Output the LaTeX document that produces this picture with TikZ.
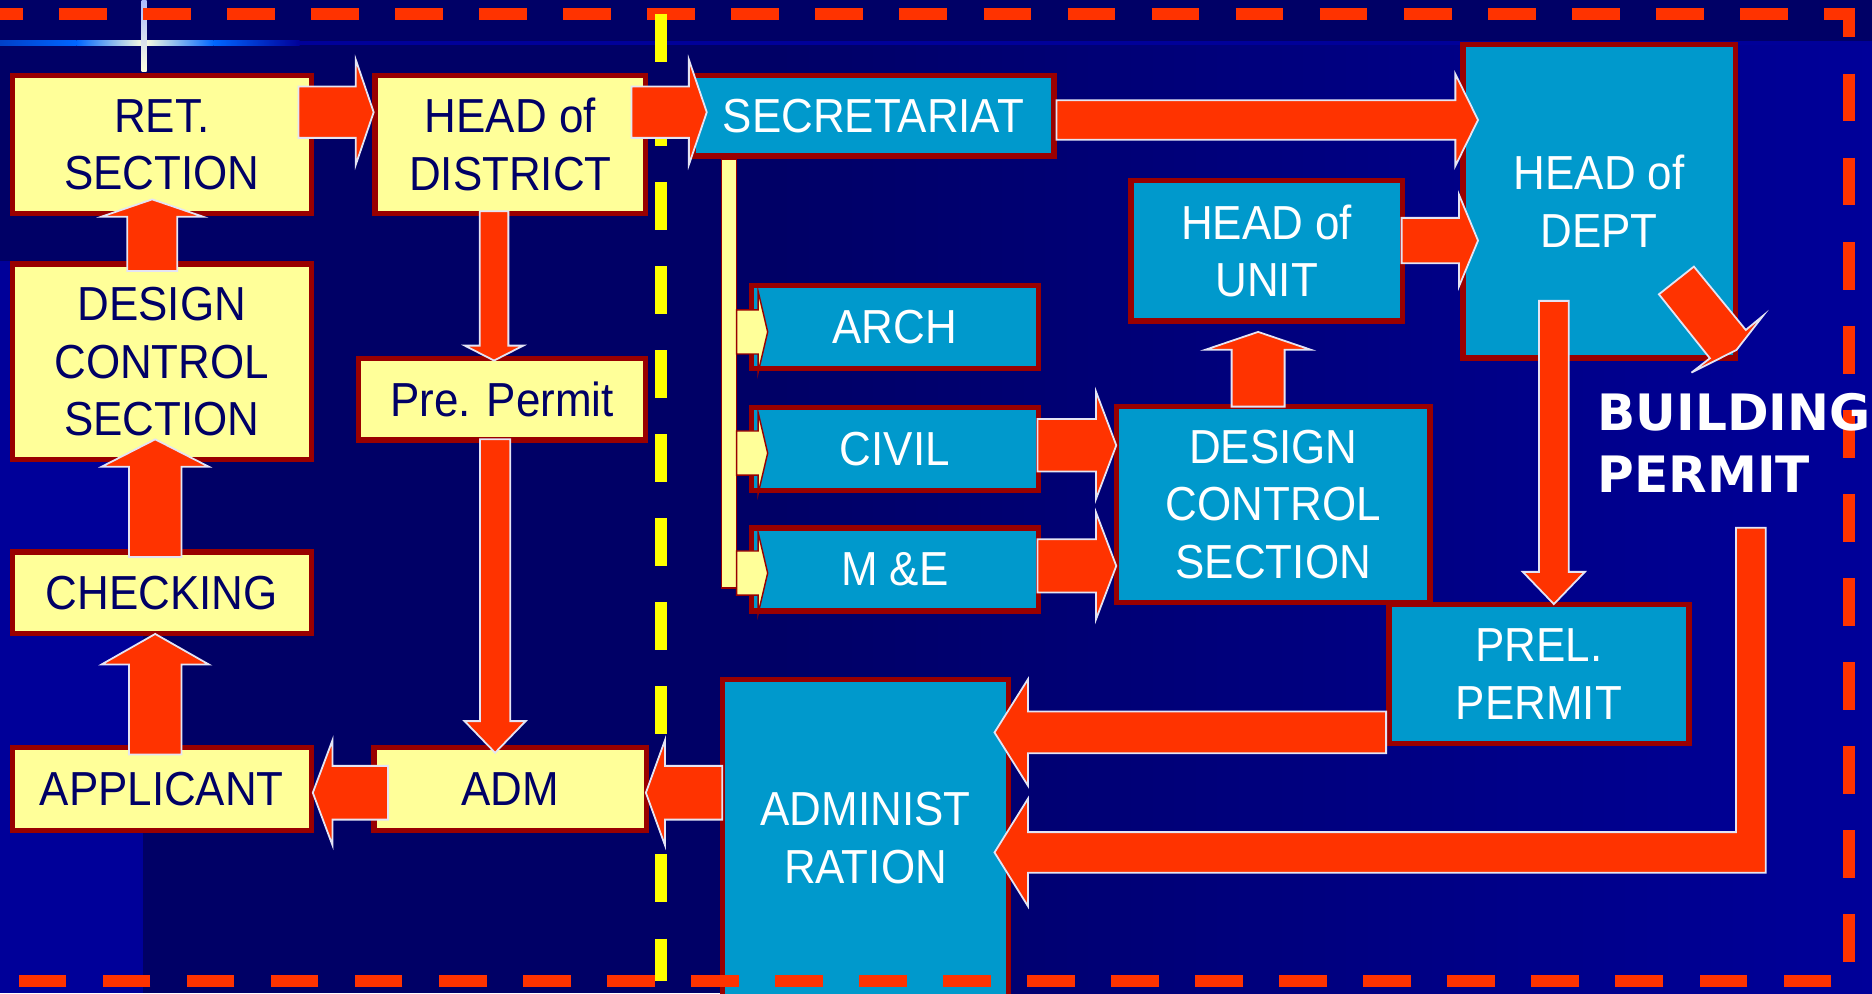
\documentclass[tikz,border=0pt]{standalone}
\usepackage{fontspec}
\newfontfamily\bxfont{Liberation Sans}[FakeStretch=0.92]
\newfontfamily\bpfont{DejaVu Sans}
\definecolor{bgdark}{HTML}{000066}
\definecolor{bgbright}{HTML}{000099}
\definecolor{glowblue}{HTML}{0066FF}
\definecolor{glowdeep}{HTML}{0040C8}
\definecolor{glowcream}{HTML}{FFFFE0}
\definecolor{glowtop}{HTML}{AABBFF}
\definecolor{boxred}{HTML}{990000}
\definecolor{ylwfill}{HTML}{FFFF99}
\definecolor{bluefill}{HTML}{0099CC}
\definecolor{arrowred}{HTML}{FF3300}
\definecolor{arrowedge}{HTML}{E4E4F4}
\definecolor{navytext}{HTML}{000066}
\definecolor{dashyellow}{HTML}{FFFF00}
\tikzset{
  boxbase/.style={draw=boxred, line width=4.6pt, inner sep=0pt, outer sep=0pt, align=center,
    font={\bxfont\fontsize{40}{48}\selectfont}},
  ybox/.style={boxbase, fill=ylwfill, text=navytext},
  bbox/.style={boxbase, fill=bluefill, text=white},
  blockarrow/.style={fill=arrowred, draw=arrowedge, line width=1.5pt, line join=miter},
  yconn/.style={fill=ylwfill, draw=boxred, line width=1.2pt},
  reddash/.style={draw=arrowred, line width=10pt, dash pattern=on 40pt off 30.4pt},
  ylwdash/.style={draw=dashyellow, line width=10pt, dash pattern=on 40pt off 30.4pt},
}
% box from outer corners: style, name, x1, y1, x2, y2, text
\newcommand\mkbox[7]{%
  \node[#1, minimum width={#5-#3-4.6}, minimum height={#6-#4-4.6}] (#2) at ({(#3+#5)/2},{(#4+#6)/2}) {#7};}
% horizontal block arrow: shaft start, head base, tip, centre y, shaft half width, head half width
\newcommand\blockH[6]{%
  \filldraw[blockarrow] (#1,#4-#5) -- (#2,#4-#5) -- (#2,#4-#6) -- (#3,#4) -- (#2,#4+#6) -- (#2,#4+#5) -- (#1,#4+#5) -- cycle;}
% vertical block arrow: shaft start, head base, tip, centre x, shaft half width, head half width
\newcommand\blockV[6]{%
  \filldraw[blockarrow] (#4-#5,#1) -- (#4-#5,#2) -- (#4-#6,#2) -- (#4,#3) -- (#4+#6,#2) -- (#4+#5,#2) -- (#4+#5,#1) -- cycle;}
% small yellow connector from the bar
\newcommand\yconnector[1]{%
  \filldraw[yconn] (617,#1-18.5) -- (635,#1-18.5) -- (635,#1-34) -- (643,#1) -- (635,#1+34) -- (635,#1+18.5) -- (617,#1+18.5) -- cycle;}
\begin{document}
\begin{tikzpicture}[x=1pt,y=-1pt]
\useasboundingbox (0,0) rectangle (1568,832);
% background
\fill[bgdark] (0,0) rectangle (1568,832);
\shade[left color=bgdark, right color=bgbright] (650,37.7) rectangle (1568,832);
\fill[bgbright] (0,219) rectangle (119.5,832);
\fill[bgbright] (0,34.5) rectangle (1568,37.7);
\shade[left color=glowdeep, right color=glowblue] (0,34) rectangle (64,38);
\shade[left color=glowblue, right color=glowcream] (64,34) rectangle (120.8,38);
\shade[left color=glowcream, right color=glowblue] (120.8,34) rectangle (179,38);
\shade[left color=glowblue, right color=bgbright] (179,34) rectangle (251,38);
\shade[top color=glowtop, bottom color=glowcream] (118.7,0) rectangle (122.9,60);

% boxes
\mkbox{ybox}{ret}{8}{61}{263}{181}{RET.\\SECTION}
\mkbox{ybox}{hod}{312}{61}{543}{181}{HEAD of\\DISTRICT}
\mkbox{ybox}{dcy}{8}{219}{263}{387}{DESIGN\\CONTROL\\SECTION}
\mkbox{ybox}{pre}{298}{298}{543}{371}{Pre. Permit}
\mkbox{ybox}{chk}{8}{460}{263}{533}{CHECKING}
\mkbox{ybox}{app}{8}{624}{263}{698}{APPLICANT}
\mkbox{ybox}{adm}{311}{624}{544}{698}{ADM}
\mkbox{bbox}{sec}{578}{61}{885}{133}{SECRETARIAT}
\mkbox{bbox}{arch}{627}{237}{872}{311}{ARCH}
\mkbox{bbox}{civil}{627}{339}{872}{413}{CIVIL}
\mkbox{bbox}{me}{627}{440}{872}{514}{M \&E}
\mkbox{bbox}{hou}{945}{149}{1177}{271}{HEAD of\\UNIT}
\mkbox{bbox}{hodept}{1223}{35}{1456}{302}{HEAD of\\DEPT}
\mkbox{bbox}{dcb}{933}{338}{1200}{507}{DESIGN\\CONTROL\\SECTION}
\mkbox{bbox}{prel}{1161}{504}{1417}{625}{PREL.\\PERMIT}
\mkbox{bbox}{admin}{603}{567}{847}{860}{}
\node[align=center, inner sep=0pt, text=white, font={\bxfont\fontsize{40}{48}\selectfont}] (admintxt) at (725,702) {ADMINIST\\RATION};

% secretariat distribution bar and connectors
\filldraw[yconn] (604.4,133) rectangle (617,492.6);
\yconnector{278}
\yconnector{379.5}
\yconnector{480}

% dashed frame and divider
\draw[reddash] (-21,11.9) -- (1548.4,11.9) -- (1548.4,821.6) -- (-60,821.6);
\draw[ylwdash] (554,11.7) -- (554,821.6);

% arrows
\blockH{250}{298}{313}{94}{21.5}{44}
\blockH{529}{577}{592}{94}{21.5}{44}
\blockH{885}{1219}{1238}{100.5}{16.5}{38.5}
\blockH{1174}{1222}{1238}{201.5}{19}{38.5}
\blockH{869}{918}{935}{373}{22}{45}
\blockH{869}{918}{935}{474}{22.3}{44.8}
\blockH{1161}{861}{833}{613.5}{17.5}{44.5}
\blockH{605}{557}{541}{664}{22.5}{44}
\blockH{325}{278.5}{262}{664}{22.5}{44}
\blockV{252}{479}{506}{1301.5}{12.5}{26}
\blockV{177}{289.5}{302}{413.8}{12}{24.5}
\blockV{368}{604}{630.5}{414.7}{12.7}{25.6}
\blockV{227}{181.5}{167}{127.5}{21}{42.5}
\blockV{466.5}{391}{368}{130}{22}{45}
\blockV{632}{556.6}{531}{130}{22}{45}
\blockV{340.6}{293}{278}{1053.8}{22.2}{44.3}
% diagonal arrow from HEAD of DEPT
\filldraw[blockarrow] (1389.5,246.5) -- (1418.8,223.3) -- (1462.3,276.4) -- (1476.8,264.4) -- (1454.5,293.1) -- (1416.8,312.1) -- (1432.2,300.1) -- cycle;
% L-shaped arrow from BUILDING PERMIT to ADMINISTRATION
\filldraw[blockarrow] (1454,442) -- (1479,442) -- (1479,731) -- (861,731) -- (861,759) -- (833,714) -- (861,669) -- (861,697) -- (1454,697) -- cycle;

% label
\node[anchor=north west, inner sep=0pt, align=left, text=white,
  font={\bpfont\bfseries\fontsize{42}{51.8}\selectfont}] (bp) at (1338,329.4) {BUILDING\\PERMIT};
\end{tikzpicture}
\end{document}
